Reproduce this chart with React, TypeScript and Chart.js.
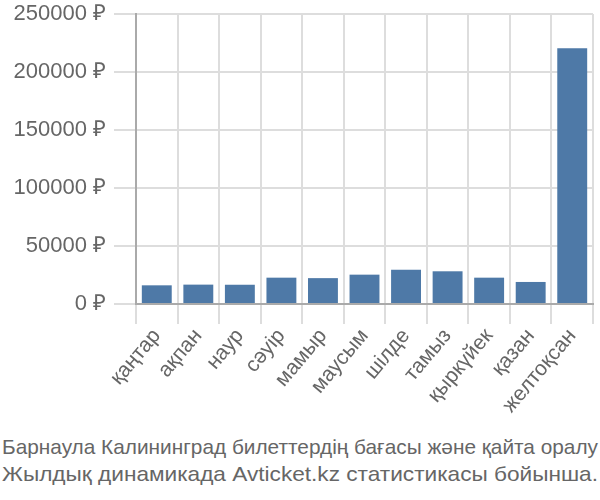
import React, { useEffect, useLayoutEffect, useRef } from "react";
import { Chart, registerables } from "chart.js";

Chart.register(...registerables);

const months = ["қаңтар", "ақпан", "наур", "сәуір", "мамыр", "маусым", "шілде", "тамыз", "қыркүйек", "қазан", "желтоқсан"];
const prices = [16100, 16700, 16600, 22700, 22300, 25300, 29600, 28200, 22700, 19000, 220400];
const yTicks = [0, 50000, 100000, 150000, 200000, 250000];
const captionLines = [
  "Барнаула Калининград билеттердің бағасы және қайта оралу",
  "Жылдық динамикада Avticket.kz статистикасы бойынша.",
];

const FONT = "'Liberation Sans', Arial, sans-serif";

export default function App() {
  const ref = useRef<HTMLCanvasElement>(null);
  const capRef = useRef<HTMLDivElement>(null);

  useLayoutEffect(() => {
    const el = capRef.current;
    if (!el) return;
    const spans = el.querySelectorAll("span");
    spans.forEach((sp) => {
      const s = sp as HTMLElement;
      const w = s.getBoundingClientRect().width;
      if (w > 0) s.style.transform = `scaleX(${596 / w})`;
    });
  }, []);

  useEffect(() => {
    if (!ref.current) return;
    const chart = new Chart(ref.current, {
      type: "bar",
      data: {
        labels: months,
        datasets: [{ data: prices, backgroundColor: "#4e79a7", borderWidth: 0 }],
      },
      options: {
        animation: false,
        responsive: false,
        maintainAspectRatio: false,
        layout: { padding: { top: 14, right: 7, left: 0, bottom: 0 } },
        plugins: { legend: { display: false }, tooltip: { enabled: false } },
        scales: {
          x: {
            grid: { color: "#dddddd", lineWidth: 2, tickLength: 20, offset: true },
            border: { color: "#aaaaaa", width: 2 },
            ticks: {
              color: "#666666",
              font: { family: FONT, size: 21 },
              minRotation: 50,
              maxRotation: 50,
              padding: 0,
            },
            afterFit: (s: any) => { s.height = 126; s.paddingLeft = 0; s.paddingRight = 0; },
          },
          y: {
            min: 0,
            max: 250000,
            afterBuildTicks: (s: any) => { s.ticks = yTicks.map((v) => ({ value: v })); },
            grid: { color: "#dddddd", lineWidth: 2, tickLength: 22 },
            border: { color: "#aaaaaa", width: 2 },
            ticks: {
              color: "#666666",
              font: { family: FONT, size: 22 },
              padding: 8,
              callback: (v: any) => `${v} ₽`,
            },
            afterFit: (s: any) => { s.width = 136; s.paddingTop = 0; s.paddingBottom = 0; },
          },
        },
      },
    });
    return () => chart.destroy();
  }, []);

  return (
    <div style={{ position: "absolute", left: 0, top: 0, width: 600, height: 500, background: "#fff" }}>
      <canvas ref={ref} width={600} height={430} style={{ position: "absolute", left: 0, top: 0 }} />
      <div
        ref={capRef}
        style={{
          position: "absolute",
          left: 2,
          top: 433,
          fontFamily: FONT,
          fontSize: 21,
          lineHeight: "27px",
          color: "#666666",
          whiteSpace: "nowrap",
        }}
      >
        {captionLines.map((l, i) => (
          <div key={i}>
            <span style={{ display: "inline-block", transformOrigin: "0 0" }}>{l}</span>
          </div>
        ))}
      </div>
    </div>
  );
}
